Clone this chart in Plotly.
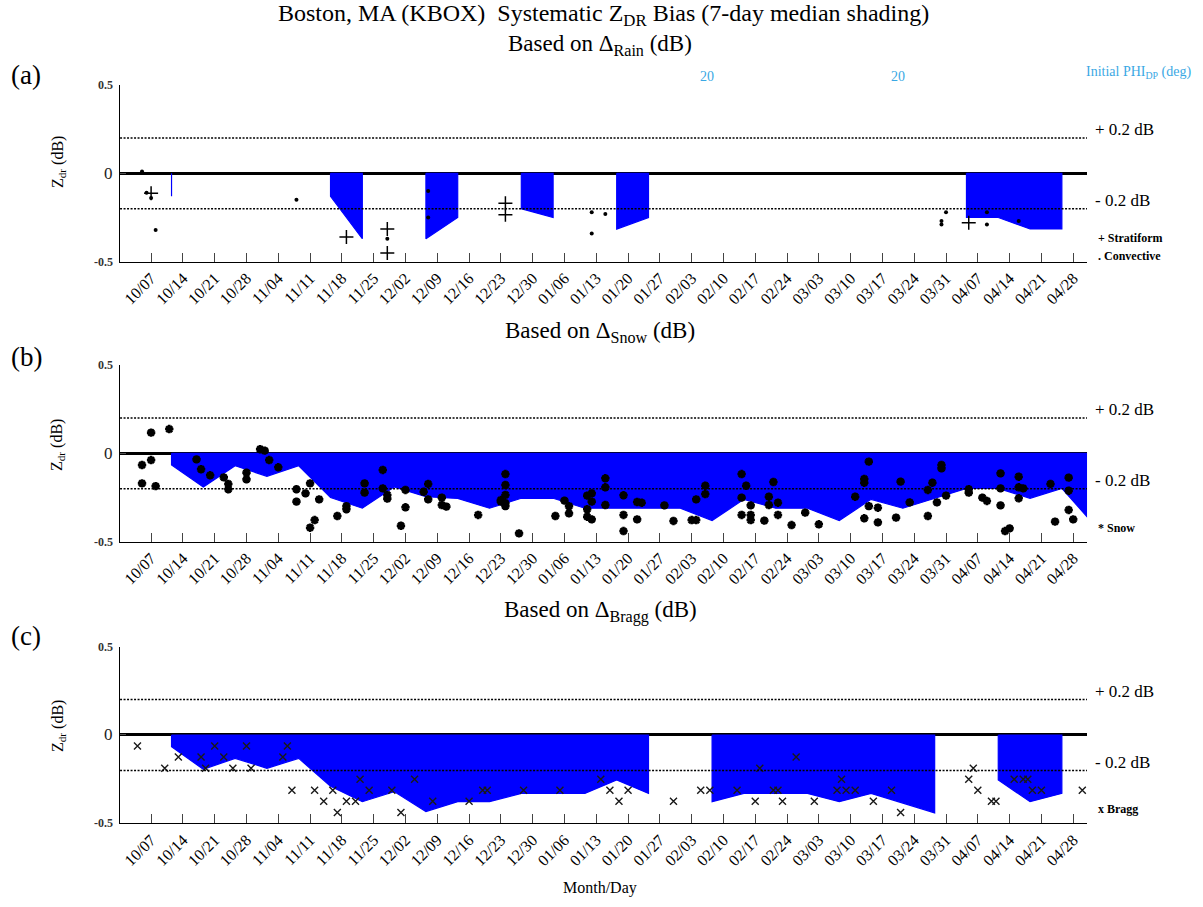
import pandas as pd
import plotly.graph_objects as go

SERIF = "Liberation Serif"

# ---- 7-day median Z_DR bias, one value per weekly window (None = no data) ----
week_start = "2012-10-11 12:00"
n_weeks = 30

rain_median = [-0.13, None, None, None, None, -0.13, -0.37, None, -0.37, -0.25,
               None, -0.20, -0.25, None, -0.315, -0.25, None, None, None, None,
               None, None, None, None, None, -0.25, -0.25, -0.315, -0.315, None]

snow_median = [-0.066, -0.19, -0.07, -0.13, -0.07, -0.25, -0.31, -0.19, -0.245, -0.255,
               -0.31, -0.254, -0.254, -0.31, -0.31, -0.31, -0.31, -0.38, -0.26, -0.31,
               -0.31, -0.38, -0.26, -0.31, -0.255, -0.198, -0.198, -0.254, -0.198, -0.40]

bragg_median = [-0.066, -0.194, -0.132, -0.188, -0.132, -0.29, -0.377, -0.32, -0.433, -0.377,
                -0.377, -0.33, -0.33, -0.33, -0.254, -0.33, None, -0.377, -0.33, -0.33,
                -0.33, -0.377, -0.33, -0.385, -0.44, None, -0.254, -0.377, -0.33, None]

# ---- individual event estimates ----
rain_strat_dates = ["2012-10-07", "2012-11-19", "2012-11-28", "2012-11-28",
                    "2012-12-24", "2012-12-24", "2013-04-05"]
rain_strat_vals = [-0.113, -0.36, -0.315, -0.45, -0.17, -0.235, -0.28]

rain_conv_dates = ["2012-10-05", "2012-10-06", "2012-10-07", "2012-10-08", "2012-11-08",
                   "2012-11-28", "2012-12-07", "2012-12-07", "2013-01-12", "2013-01-12",
                   "2013-01-15", "2013-03-31", "2013-03-30", "2013-03-30", "2013-04-09",
                   "2013-04-09", "2013-04-16"]
rain_conv_vals = [0.01, -0.11, -0.14, -0.32, -0.15,
                  -0.37, -0.10, -0.25, -0.22, -0.34,
                  -0.23, -0.22, -0.27, -0.29, -0.22,
                  -0.29, -0.27]

snow_dates = [
    "2012-10-05", "2012-10-05", "2012-10-07", "2012-10-07", "2012-10-08", "2012-10-11",
    "2012-10-17", "2012-10-18", "2012-10-20", "2012-10-23", "2012-10-24", "2012-10-24",
    "2012-10-28", "2012-10-28", "2012-10-31", "2012-11-01", "2012-11-02", "2012-11-04",
    "2012-11-08", "2012-11-08", "2012-11-10", "2012-11-11", "2012-11-13", "2012-11-11",
    "2012-11-12", "2012-11-17", "2012-11-19", "2012-11-19", "2012-11-23", "2012-11-23",
    "2012-11-27", "2012-11-27", "2012-11-28", "2012-11-28", "2012-12-02", "2012-12-02",
    "2012-12-01", "2012-12-06", "2012-12-07", "2012-12-07", "2012-12-10", "2012-12-10",
    "2012-12-11", "2012-12-18", "2012-12-23", "2012-12-24", "2012-12-24", "2012-12-24",
    "2012-12-23", "2012-12-24", "2012-12-24", "2012-12-27", "2013-01-04", "2013-01-06",
    "2013-01-07", "2013-01-07", "2013-01-11", "2013-01-11", "2013-01-12", "2013-01-12",
    "2013-01-11", "2013-01-12", "2013-01-15", "2013-01-15", "2013-01-15", "2013-01-19",
    "2013-01-19", "2013-01-19", "2013-01-22", "2013-01-23", "2013-01-22", "2013-01-28",
    "2013-01-30", "2013-02-03", "2013-02-04", "2013-02-04", "2013-02-06", "2013-02-06",
    "2013-02-14", "2013-02-14", "2013-02-15", "2013-02-14", "2013-02-16", "2013-02-16",
    "2013-02-16", "2013-02-19", "2013-02-20", "2013-02-20", "2013-02-21", "2013-02-22",
    "2013-02-22", "2013-02-25", "2013-02-28", "2013-03-03", "2013-03-11", "2013-03-13",
    "2013-03-13", "2013-03-14", "2013-03-14", "2013-03-13", "2013-03-16", "2013-03-16",
    "2013-03-21", "2013-03-20", "2013-03-23", "2013-03-27", "2013-03-27", "2013-03-28",
    "2013-03-29", "2013-03-30", "2013-03-30", "2013-03-31", "2013-04-05", "2013-04-05",
    "2013-04-08", "2013-04-09", "2013-04-12", "2013-04-12", "2013-04-12", "2013-04-13",
    "2013-04-14", "2013-04-16", "2013-04-16", "2013-04-17", "2013-04-16", "2013-04-23",
    "2013-04-24", "2013-04-27", "2013-04-27", "2013-04-27", "2013-04-28"]
snow_vals = [
    -0.066, -0.17, 0.117, -0.038, -0.185, 0.137,
    -0.034, -0.09, -0.124, -0.136, -0.173, -0.203,
    -0.109, -0.147, 0.023, 0.015, -0.038, -0.079,
    -0.203, -0.273, -0.226, -0.17, -0.26, -0.42,
    -0.377, -0.354, -0.298, -0.316, -0.17, -0.222,
    -0.094, -0.198, -0.235, -0.256, -0.207, -0.305,
    -0.409, -0.217, -0.173, -0.26, -0.25, -0.292,
    -0.301, -0.348, -0.273, -0.117, -0.179, -0.235,
    -0.264, -0.298, -0.282, -0.452, -0.354, -0.267,
    -0.298, -0.339, -0.316, -0.239, -0.226, -0.273,
    -0.358, -0.373, -0.192, -0.141, -0.292, -0.348,
    -0.237, -0.439, -0.275, -0.279, -0.373, -0.294,
    -0.382, -0.377, -0.377, -0.26, -0.183, -0.23,
    -0.348, -0.117, -0.183, -0.25, -0.348, -0.294,
    -0.377, -0.38, -0.245, -0.292, -0.162, -0.279,
    -0.348, -0.405, -0.335, -0.401, -0.245, -0.145,
    -0.166, -0.047, -0.298, -0.367, -0.307, -0.39,
    -0.16, -0.363, -0.277, -0.207, -0.354, -0.166,
    -0.277, -0.066, -0.085, -0.239, -0.203, -0.222,
    -0.25, -0.269, -0.113, -0.198, -0.294, -0.439,
    -0.424, -0.132, -0.192, -0.198, -0.254, -0.173,
    -0.386, -0.137, -0.211, -0.32, -0.373]

bragg_dates = [
    "2012-10-04", "2012-10-10", "2012-10-13", "2012-10-18", "2012-10-21", "2012-10-23",
    "2012-10-19", "2012-10-25", "2012-10-28", "2012-10-29", "2012-11-05", "2012-11-06",
    "2012-11-07", "2012-11-12", "2012-11-16", "2012-11-14", "2012-11-17", "2012-11-19",
    "2012-11-21", "2012-11-22", "2012-11-24", "2012-11-29", "2012-12-01", "2012-12-04",
    "2012-12-08", "2012-12-16", "2012-12-19", "2012-12-20", "2012-12-28", "2013-01-05",
    "2013-01-14", "2013-01-16", "2013-01-18", "2013-01-20", "2013-01-30", "2013-02-05",
    "2013-02-07", "2013-02-13", "2013-02-17", "2013-02-18", "2013-02-21", "2013-02-22",
    "2013-02-23", "2013-02-26", "2013-03-02", "2013-03-07", "2013-03-09", "2013-03-11",
    "2013-03-08", "2013-03-15", "2013-03-19", "2013-03-21", "2013-04-05", "2013-04-06",
    "2013-04-07", "2013-04-10", "2013-04-11", "2013-04-15", "2013-04-17", "2013-04-18",
    "2013-04-19", "2013-04-21", "2013-04-30"]
bragg_vals = [
    -0.0625, -0.1875, -0.125, -0.125, -0.0625, -0.125,
    -0.1875, -0.1875, -0.0625, -0.1875, -0.125, -0.0625,
    -0.3125, -0.3125, -0.3125, -0.375, -0.4375, -0.375,
    -0.375, -0.25, -0.3125, -0.3125, -0.4375, -0.25,
    -0.375, -0.375, -0.3125, -0.3125, -0.3125, -0.3125,
    -0.25, -0.3125, -0.375, -0.3125, -0.375, -0.3125,
    -0.3125, -0.3125, -0.375, -0.1875, -0.3125, -0.3125,
    -0.375, -0.125, -0.375, -0.3125, -0.3125, -0.3125,
    -0.25, -0.375, -0.3125, -0.4375, -0.25, -0.1875,
    -0.3125, -0.375, -0.375, -0.25, -0.25, -0.25,
    -0.3125, -0.3125, -0.3125]

# y-axis tick values and their labels
y_ticks = [0.5, 0, -0.5]
y_tick_text = ["0.5", "0", "-0.5"]

weeks = pd.date_range(week_start, periods=n_weeks, freq="7D")

fig = go.Figure()

BLUE = "#0000ff"


def add_shading(vals, axis_id):
    """Fill from 0 down to the weekly median, one polygon per contiguous run."""
    runs, cur = [], []
    for w, v in zip(weeks, vals):
        if v is None:
            if cur:
                runs.append(cur)
            cur = []
        else:
            cur.append((w, v))
    if cur:
        runs.append(cur)
    for run in runs:
        xs = [run[0][0]] + [w for w, _ in run] + [run[-1][0], run[0][0]]
        ys = [0] + [v for _, v in run] + [0, 0]
        fig.add_trace(go.Scatter(
            x=xs, y=ys, mode="lines", fill="toself", fillcolor=BLUE,
            line=dict(color=BLUE, width=1.2), hoverinfo="skip",
            showlegend=False, xaxis="x" + axis_id, yaxis="y" + axis_id))


add_shading(rain_median, "")
add_shading(snow_median, "2")
add_shading(bragg_median, "3")

# rain events: stratiform (+) and convective (.)
fig.add_trace(go.Scatter(
    x=rain_strat_dates, y=rain_strat_vals, mode="markers", showlegend=False,
    marker=dict(symbol="cross-thin", size=10, color="black",
                line=dict(color="black", width=1.5)),
    xaxis="x", yaxis="y"))
fig.add_trace(go.Scatter(
    x=rain_conv_dates, y=rain_conv_vals, mode="markers", showlegend=False,
    marker=dict(symbol="circle", size=4, color="black"),
    xaxis="x", yaxis="y"))

# dry snow events
fig.add_trace(go.Scatter(
    x=snow_dates, y=snow_vals, mode="markers", showlegend=False,
    marker=dict(symbol="asterisk-open", size=7, color="black",
                line=dict(color="black", width=2.6)),
    xaxis="x2", yaxis="y2"))

# Bragg scatter events
fig.add_trace(go.Scatter(
    x=bragg_dates, y=bragg_vals, mode="markers", showlegend=False,
    marker=dict(symbol="x-thin", size=7, color="#1a1a1a",
                line=dict(color="#1a1a1a", width=1.4)),
    xaxis="x3", yaxis="y3"))

# ---- axes ----
x_domain = [0.0998, 0.9036]
y_domains = {"": [0.7114, 0.9065], "2": [0.4026, 0.5978], "3": [0.0921, 0.2872]}
x_range = ["2012-09-30 04:00", "2013-05-01 01:00"]

layout = dict(
    width=1203, height=907, margin=dict(l=0, r=0, t=0, b=0),
    plot_bgcolor="white", paper_bgcolor="white",
    font=dict(family=SERIF, color="black"),
    showlegend=False,
)

for ax in ["", "2", "3"]:
    layout["xaxis" + ax] = dict(
        type="date", domain=x_domain, range=x_range, anchor="y" + ax,
        tick0="2012-10-07", dtick=7 * 86400000, tickformat="%m/%d",
        tickangle=-45, tickfont=dict(family=SERIF, size=16, color="black"),
        ticks="inside", ticklen=9, tickcolor="#444", tickwidth=1,
        showline=True, linecolor="black", linewidth=1,
        showgrid=False, zeroline=False,
    )
    layout["yaxis" + ax] = dict(
        domain=y_domains[ax], range=[-0.5, 0.5], anchor="x" + ax,
        tickvals=y_ticks, showticklabels=False,
        ticks="inside", ticklen=6, tickcolor="#555",
        showline=True, linecolor="black", linewidth=1,
        showgrid=False, zeroline=True, zerolinecolor="black", zerolinewidth=2.5,
    )

shapes = []
for ax in ["", "2", "3"]:
    for lvl in (0.2, -0.2):
        shapes.append(dict(
            type="line", xref="x" + ax + " domain", yref="y" + ax,
            x0=0, x1=1, y0=lvl, y1=lvl,
            line=dict(color="black", width=1.5, dash="2px,1.5px")))
layout["shapes"] = shapes

CYAN = "#3aa8e4"
ann = []


def text(x, y, s, size, xanchor="center", yanchor="middle", color="black",
         xref="paper", yref="paper", textangle=0, yshift=0, weight="normal"):
    ann.append(dict(x=x, y=y, text=s, xref=xref, yref=yref, showarrow=False,
                    xanchor=xanchor, yanchor=yanchor, textangle=textangle,
                    yshift=yshift,
                    font=dict(family=SERIF, size=size, color=color, weight=weight)))


W, H = 1203.0, 907.0


def px(xp, yp):
    return xp / W, 1 - yp / H


# y tick labels: the zero label is drawn larger than the end labels
for ax in ["", "2", "3"]:
    for val, lab in zip(y_ticks, y_tick_text):
        if val == 0:
            text(115 / W, val, lab, 17, xanchor="right", yref="y" + ax, color="#222")
        else:
            text(115 / W, val, lab, 12, xanchor="right", yref="y" + ax,
                 color="#333", weight="bold")

# titles
text(*px(603, 15), "Boston, MA (KBOX)  Systematic Z<sub>DR</sub> Bias (7-day median shading)", 24)
text(*px(600, 45), "Based on Δ<sub>Rain</sub> (dB)", 23)
text(*px(600, 332), "Based on Δ<sub>Snow</sub> (dB)", 23)
text(*px(600, 611), "Based on Δ<sub>Bragg</sub> (dB)", 23)

# panel letters
text(*px(9, 75), "(a)", 27, xanchor="left")
text(*px(9, 357), "(b)", 27, xanchor="left")
text(*px(9, 636), "(c)", 27, xanchor="left")

# y-axis titles
for yc in (162, 445, 726):
    text(*px(58, yc), "Z<sub>dr</sub> (dB)", 16, textangle=-90)

# reference level labels on the right
for ax in ["", "2", "3"]:
    for lvl, lab in ((0.2, "+ 0.2 dB"), (-0.2, "- 0.2 dB")):
        text(1093 / W, lvl, lab, 17, xanchor="left", yref="y" + ax, yshift=8)

# marker keys
text(*px(1096, 238), "+ Stratiform", 12, xanchor="left", weight="bold")
text(*px(1096, 256), ". Convective", 12, xanchor="left", weight="bold")
text(*px(1096, 528), "* Snow", 12, xanchor="left", weight="bold")
text(*px(1096, 809), "x Bragg", 12, xanchor="left", weight="bold")

# initial PHI_DP labels
text(*px(707, 76), "20", 14, color=CYAN)
text(*px(898, 76), "20", 14, color=CYAN)
text(*px(1084, 73), "Initial PHI<sub>DP</sub> (deg)", 14, xanchor="left", color=CYAN)

text(*px(600, 888), "Month/Day", 16)

layout["annotations"] = ann
fig.update_layout(**layout)

fig.write_html("out.html")
